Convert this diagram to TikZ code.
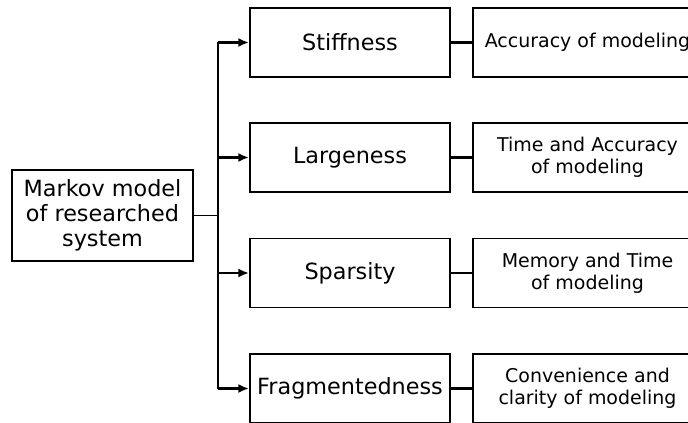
\documentclass[tikz,border=0pt]{standalone}
\usepackage{fontspec}
\setmainfont{DejaVu Sans}
\usetikzlibrary{arrows.meta, positioning}

\begin{document}
\begin{tikzpicture}[
  box/.style={rectangle, draw, line width=1.1pt, minimum width=4cm, minimum height=1.38cm,
              align=center, inner sep=1pt, font=\fontsize{12.7}{14.2}\selectfont},
  res/.style={box, minimum width=4.58cm, font=\fontsize{10.8}{12.5}\selectfont},
  arr/.style={-{Latex[length=6pt,width=5pt]}, line width=1.4pt},
  link/.style={line width=1.4pt}
]
  \useasboundingbox (0,0) rectangle (13.76,-8.46);

  % Model
  \node[box, minimum width=3.62cm, minimum height=1.82cm] (model) at (2.05,-4.31)
    {Markov model\\of researched\\system};

  % Properties
  \node[box] (stiff)  at (7,-0.85) {Stiffness};
  \node[box] (large)  at (7,-3.15) {Largeness};
  \node[box] (sparse) at (7,-5.46) {Sparsity};
  \node[box] (frag)   at (7,-7.77) {Fragmentedness};

  % Consequences
  \node[res] (acc)  at (11.75,-0.85) {Accuracy of modeling};
  \node[res] (tacc) at (11.75,-3.15) {Time and Accuracy\\of modeling};
  \node[res] (mem)  at (11.75,-5.46) {Memory and Time\\of modeling};
  \node[res] (conv) at (11.75,-7.77) {Convenience and\\clarity of modeling};

  % Bus
  \coordinate (bus) at (4.36,-4.31);
  \draw[line width=0.8pt] (model) -- (bus);
  \draw[link] (stiff.west -| bus) -- (frag.west -| bus);
  \foreach \n in {stiff, large, sparse, frag}
    \draw[arr] (\n.west -| bus) -- (\n.west);

  % Links
  \draw[link] (stiff) -- (acc);
  \draw[link] (large) -- (tacc);
  \draw[link] (sparse) -- (mem);
  \draw[link] (frag) -- (conv);
\end{tikzpicture}
\end{document}
